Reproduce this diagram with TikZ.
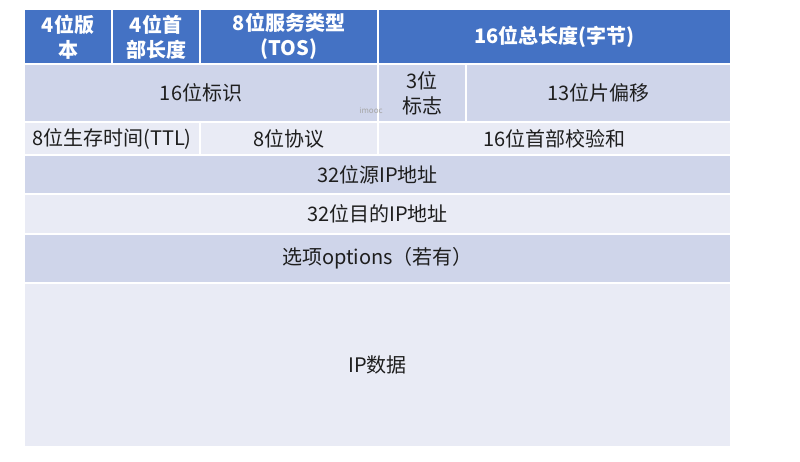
\documentclass[tikz,border=0pt]{standalone}
\usepackage{fontspec}
\setmainfont{Noto Sans CJK SC}
\definecolor{hdr}{HTML}{4472C4}
\definecolor{rowA}{HTML}{CFD5EA}
\definecolor{rowB}{HTML}{E9EBF5}
\definecolor{txt}{HTML}{1E1E1E}
\newcommand\ipcell[7]{\node[#6, minimum width={#4-#2}, minimum height={#5-#3}] (#1) at ({(#2+#4)/2},{(#3+#5)/2}) {#7};}
\begin{document}
\begin{tikzpicture}[x=1pt,y=-1pt,
  cellbase/.style={draw=white, line width=1.6pt, inner sep=0pt, align=center, text=txt, font=\fontsize{20}{25}\selectfont},
  hcell/.style={cellbase, fill=hdr, text=white, font=\fontsize{20}{25}\selectfont\bfseries},
  dcell/.style={cellbase, fill=rowA},
  lcell/.style={cellbase, fill=rowB},
  wm/.style={text=black!35, font=\fontsize{8}{9}\selectfont, inner sep=0pt}]
\useasboundingbox (0,0) rectangle (800,461);
% header
\ipcell{ver}{24}{9.5}{112}{64}{hcell}{4位版\\本}
\ipcell{hlen}{112}{9.5}{200}{64}{hcell}{4位首\\部长度}
\ipcell{tos}{200}{9.5}{378}{64}{hcell}{8位服务类型\\(TOS)}
\ipcell{tlen}{378}{9.5}{731}{64}{hcell}{16位总长度(字节)}
% row 2
\ipcell{ident}{24}{64}{378}{122}{dcell}{16位标识}
\ipcell{flags}{378}{64}{466}{122}{dcell}{3位\\标志}
\ipcell{frag}{466}{64}{731}{122}{dcell}{13位片偏移}
% row 3
\ipcell{ttl}{24}{122}{200}{155}{lcell}{8位生存时间(TTL)}
\ipcell{proto}{200}{122}{378}{155}{lcell}{8位协议}
\ipcell{csum}{378}{122}{731}{155}{lcell}{16位首部校验和}
% rows 4-7
\ipcell{src}{24}{155}{731}{194}{dcell}{32位源IP地址}
\ipcell{dst}{24}{194}{731}{234}{lcell}{32位目的IP地址}
\ipcell{opt}{24}{234}{731}{283}{dcell}{选项options（若有）}
\ipcell{data}{24}{283}{731}{447}{lcell}{IP数据}
% watermark
\node[wm] (mark) at (371,110) {imooc};
\end{tikzpicture}
\end{document}
